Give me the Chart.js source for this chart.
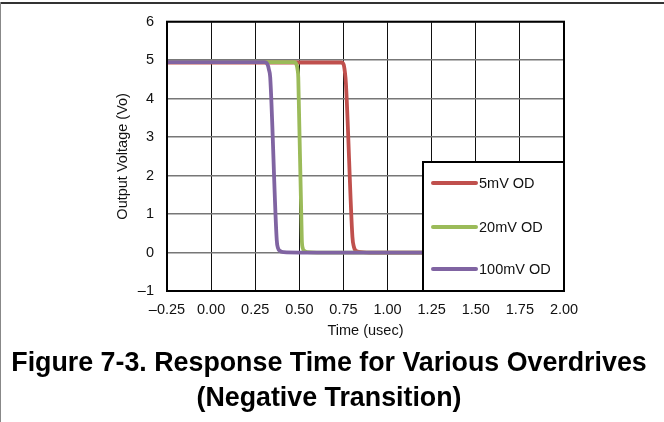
<!DOCTYPE html>
<html>
<head>
<meta charset="utf-8">
<script src="https://cdn.jsdelivr.net/npm/chart.js@4.4.1/dist/chart.umd.min.js"></script>
<style>
  html, body { margin: 0; padding: 0; background: #fff; }
  body { width: 664px; height: 422px; position: relative; overflow: hidden; font-family: "Liberation Sans", Arial, sans-serif; }
  .edgeTop { position: absolute; left: 0; top: 2px; width: 664px; border-top: 2px solid #333; }
  .edgeLeft { position: absolute; left: 0; top: 2px; height: 420px; border-left: 1px solid #888; }
  #wrap { position: absolute; left: 0; top: 0; width: 664px; height: 422px; }
  .cap { position: absolute; left: 0; top: 345px; width: 658px; text-align: center; font-weight: bold; font-size: 26.8px; line-height: 35px; color: #000; }
</style>
</head>
<body>
<div class="edgeTop"></div>
<div class="edgeLeft"></div>
<div id="wrap"><canvas id="c" width="664" height="422"></canvas></div>
<div class="cap">Figure 7-3. Response Time for Various Overdrives<br>(Negative Transition)</div>
<script>
  "use strict";
  var seriesNames = ["5mV OD", "20mV OD", "100mV OD"];
  var seriesColors = ["#c0504d", "#9bbb59", "#8064a2"];

  // time (usec) / output voltage (V)
  var t5mV = [-0.25, 0.737, 0.751, 0.758, 0.764, 0.801, 0.809, 0.819, 0.836, 0.90, 2.00];
  var v5mV = [4.94, 4.94, 4.89, 4.70, 4.40, 0.40, 0.15, 0.05, 0.02, 0.00, 0.00];
  var t20mV = [-0.25, 0.470, 0.483, 0.490, 0.494, 0.514, 0.519, 0.529, 0.546, 0.60, 2.00];
  var v20mV = [4.95, 4.95, 4.90, 4.75, 4.55, 0.35, 0.12, 0.04, 0.01, 0.00, 0.00];
  var t100mV = [-0.25, 0.302, 0.319, 0.328, 0.335, 0.372, 0.379, 0.391, 0.411, 0.50, 2.00];
  var v100mV = [4.95, 4.95, 4.90, 4.75, 4.55, 0.32, 0.12, 0.04, 0.01, 0.00, 0.00];

  var xTicks = [-0.25, 0, 0.25, 0.5, 0.75, 1, 1.25, 1.5, 1.75, 2];
  var xTickLabels = ["\u20130.25", "0.00", "0.25", "0.50", "0.75", "1.00", "1.25", "1.50", "1.75", "2.00"];
  var yTicks = [-1, 0, 1, 2, 3, 4, 5, 6];
  var yTickLabels = ["\u20131", "0", "1", "2", "3", "4", "5", "6"];

  function pts(ts, vs) { return ts.map(function (t, i) { return { x: t, y: vs[i] }; }); }
  var series = [pts(t5mV, v5mV), pts(t20mV, v20mV), pts(t100mV, v100mV)];

  var FONT = "'Liberation Sans', Arial, sans-serif";

  /* plot frame + boxed legend drawn over the traces */
  var frameAndLegend = {
    id: "frameAndLegend",
    afterDraw: function (chart) {
      var ctx = chart.ctx, ca = chart.chartArea;
      ctx.save();
      ctx.strokeStyle = "#000";
      ctx.lineWidth = 2;
      ctx.strokeRect(ca.left, ca.top, ca.right - ca.left, ca.bottom - ca.top);

      var bx = 423, by = 162;
      ctx.fillStyle = "#fff";
      ctx.fillRect(bx, by, ca.right - bx, ca.bottom - by);
      ctx.strokeRect(bx, by, ca.right - bx, ca.bottom - by);

      var rowY = [183, 227, 269];
      ctx.font = "14.5px " + FONT;
      ctx.textBaseline = "middle";
      ctx.lineCap = "round";
      chart.data.datasets.forEach(function (ds, i) {
        ctx.strokeStyle = ds.borderColor;
        ctx.lineWidth = 4;
        ctx.beginPath();
        ctx.moveTo(433, rowY[i]);
        ctx.lineTo(476, rowY[i]);
        ctx.stroke();
        ctx.fillStyle = "#111";
        ctx.fillText(ds.label, 479, rowY[i] + 1);
      });
      ctx.restore();
    }
  };

  new Chart(document.getElementById("c"), {
    type: "line",
    data: {
      datasets: series.map(function (d, i) {
        return {
          label: seriesNames[i], data: d,
          borderColor: seriesColors[i], backgroundColor: seriesColors[i],
          borderWidth: 3.8, pointRadius: 0, cubicInterpolationMode: "monotone",
          order: 3 - i
        };
      })
    },
    options: {
      responsive: false, animation: false, devicePixelRatio: 1,
      layout: { padding: { left: 114, top: 21, right: 100, bottom: 82 } },
      plugins: { legend: { display: false }, tooltip: { enabled: false } },
      scales: {
        x: {
          type: "linear", min: -0.25, max: 2,
          afterBuildTicks: function (s) { s.ticks = xTicks.map(function (v) { return { value: v }; }); },
          afterFit: function (s) { s.height = 49; },
          grid: { color: "#111", lineWidth: 1, drawTicks: false },
          border: { display: false },
          ticks: { padding: 10, color: "#111", font: { family: FONT, size: 14.5 },
            maxRotation: 0, autoSkip: false,
            callback: function (v, i) { return xTickLabels[i]; } },
          title: { display: true, text: "Time (usec)", color: "#111", padding: 0, font: { family: FONT, size: 14.5 } }
        },
        y: {
          min: -1, max: 6,
          afterBuildTicks: function (s) { s.ticks = yTicks.map(function (v) { return { value: v }; }); },
          afterFit: function (s) { s.width = 53; },
          grid: { color: "#777", lineWidth: 1.5, drawTicks: false },
          border: { display: false },
          ticks: { padding: 13, color: "#111", font: { family: FONT, size: 14.5 },
            callback: function (v, i) { return yTickLabels[i]; } },
          title: { display: true, text: "Output Voltage (Vo)", color: "#111", padding: 0, font: { family: FONT, size: 14.5 } }
        }
      }
    },
    plugins: [frameAndLegend]
  });
</script>
</body>
</html>
